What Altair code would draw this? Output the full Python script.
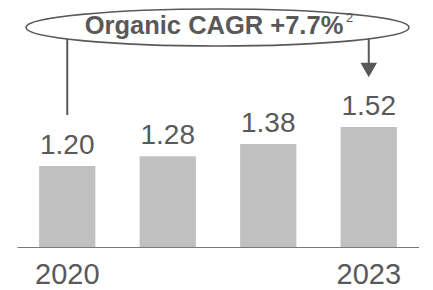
import altair as alt
import pandas as pd

years = ["2020", "2021", "2022", "2023"]
values = [1.20, 1.28, 1.38, 1.52]
shown_years = ["2020", "2023"]
title_text = "Organic CAGR +7.7%"
footnote = "2"

TEXT = "#595959"
BAR = "#c0c0c0"
FONT = "Liberation Sans"
Y_MIN = 0.5355
Y_MAX = 2.496

df = pd.DataFrame({"year": years, "value": values})
left = df[df["year"] == years[0]]
right = df[df["year"] == years[-1]]
one = pd.DataFrame({"t": [title_text], "s": [footnote]})

x = alt.X("year:N", sort=years,
          scale=alt.Scale(paddingInner=0.44, paddingOuter=0.22),
          axis=alt.Axis(title=None, values=shown_years, labelAngle=0, ticks=False, tickSize=0,
                        labelFont=FONT, labelFontSize=29, labelColor=TEXT,
                        labelBaseline="alphabetic", labelPadding=36,
                        domainColor="#7a7a7a", domainWidth=1.2))
y = alt.Y("value:Q", scale=alt.Scale(domain=[Y_MIN, Y_MAX], zero=False, nice=False), axis=None)

bars = alt.Chart(df).mark_bar(color=BAR).encode(x=x, y=y, y2=alt.datum(Y_MIN))
labels = alt.Chart(df).mark_text(font=FONT, fontSize=28, color=TEXT, baseline="alphabetic", dy=-12).encode(
    x=alt.X("year:N", sort=years), y="value:Q", text=alt.Text("value:Q", format=".2f"))

left_rule = alt.Chart(left).mark_rule(color=TEXT, strokeWidth=2).encode(
    x=alt.X("year:N", sort=years), y=alt.value(25), y2=alt.value(107))
right_rule = alt.Chart(right).mark_rule(color=TEXT, strokeWidth=2).encode(
    x=alt.X("year:N", sort=years), y=alt.value(25), y2=alt.value(58))
arrow = alt.Chart(right).mark_point(shape="triangle-down", filled=True, color=TEXT, size=276, opacity=1).encode(
    x=alt.X("year:N", sort=years), y=alt.value(62))

ry = 18.5 / 191.5
ellipse_path = f"M -1 0 A 1 {ry:.4f} 0 1 1 1 0 A 1 {ry:.4f} 0 1 1 -1 0 Z"
ellipse = alt.Chart(one).mark_point(shape=ellipse_path, filled=False, fill="white", fillOpacity=1,
                                    stroke=TEXT, strokeWidth=1.6, opacity=1, size=383 ** 2).encode(
    x=alt.value(200.5), y=alt.value(19.5))
title = alt.Chart(one).mark_text(font=FONT, fontSize=25.5, fontWeight="bold", color=TEXT,
                                 baseline="alphabetic", align="center").encode(
    x=alt.value(197), y=alt.value(25.5), text="t:N")
sup = alt.Chart(one).mark_text(font=FONT, fontSize=13, color=TEXT, fill=TEXT, baseline="alphabetic",
                               align="left").encode(
    x=alt.value(329), y=alt.value(13.5), text="s:N")

chart = alt.layer(bars, labels, left_rule, right_rule, arrow, ellipse, title, sup).properties(
    width=402, height=239,
    autosize=alt.AutoSizeParams(type="none"),
    padding={"left": 9, "top": 0, "right": 0, "bottom": 42},
).configure_view(stroke=None)

chart.save("out.html", embed_options={"renderer": "svg", "actions": False})
